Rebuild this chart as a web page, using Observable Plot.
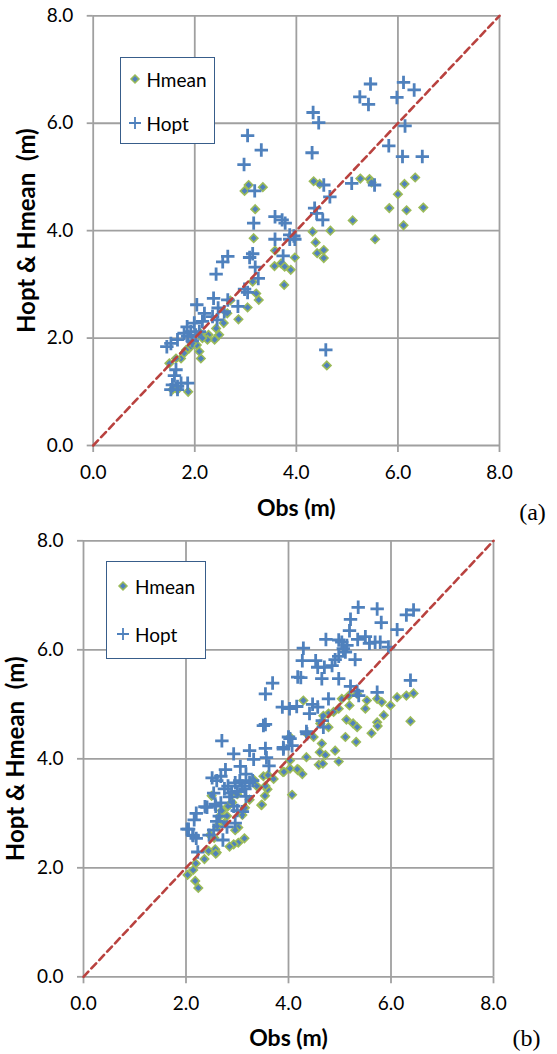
<!DOCTYPE html>
<html>
<head>
<meta charset="utf-8">
<script src="https://cdn.jsdelivr.net/npm/d3@7"></script>
<script src="https://cdn.jsdelivr.net/npm/@observablehq/plot@0.6"></script>
<style>
  html, body { margin: 0; padding: 0; background: #fff; }
  .panel { position: relative; width: 557px; height: 527px; overflow: visible; }
  .panel svg { overflow: visible; }
  .legend { position: absolute; box-sizing: border-box; border: 1.5px solid #385d8a; background: #fff; }
  .lg-item { position: absolute; font-family: Lato, "Open Sans", sans-serif; font-size: 19px; color: #000; line-height: 1; transform: translateY(-50%); white-space: nowrap; }
  .lg-sym { position: absolute; overflow: visible; }
</style>
</head>
<body>
<div class="panel" id="pa"></div>
<div class="panel" id="pb"></div>
<script>
// ---------- data ----------
const axisTicks = [0, 2, 4, 6, 8];
const oneToOne = [0, 8];
const seriesNames = ["Hmean", "Hopt"];
const xTitle = "Obs (m)";
const yTitle = "Hopt & Hmean\u00a0\u00a0(m)";
const panelLabels = ["(a)", "(b)"];

// panel (a): [Obs, Hmean]
const aHmean = [
  [4.34,4.92],[4.46,4.87],[5.26,4.97],[5.44,4.96],[5.48,4.90],[6.34,4.99],[6.13,4.87],[6.00,4.68],
  [5.83,4.42],[6.17,4.38],[6.50,4.43],[6.11,4.10],[5.11,4.19],[4.67,4.00],[4.32,3.98],[4.38,3.78],
  [5.55,3.84],[4.41,3.58],[4.54,3.64],[4.54,3.49],[4.60,1.49],[2.98,4.74],[3.06,4.85],[3.34,4.81],
  [3.19,4.40],[3.16,3.86],[3.58,3.63],[3.57,3.34],[3.70,3.39],[3.77,3.33],[3.89,3.27],[3.76,2.99],
  [3.97,3.50],[3.14,3.05],[3.21,2.83],[3.26,2.71],[3.04,2.57],[2.86,2.35],[2.64,2.46],[2.57,2.28],
  [2.48,2.06],[2.39,1.97],[2.27,2.06],[2.42,2.18],[2.11,2.09],[2.12,1.62],[2.09,1.75],[2.04,1.87],
  [1.89,1.81],[1.83,1.78],[1.73,1.62],[1.63,1.62],[1.50,1.53],[1.87,1.00],[1.66,1.04],[1.56,1.04],
  [1.79,1.72],[2.25,1.97],[2.70,2.70],[1.95,1.90],[2.15,2.00]
];
// panel (a): [Obs, Hopt]
const aHopt = [
  [5.46,6.73],[6.11,6.76],[6.32,6.62],[5.25,6.49],[5.98,6.48],[5.42,6.35],[4.33,6.20],[4.44,6.01],
  [6.14,5.95],[5.82,5.58],[4.31,5.45],[6.09,5.38],[6.48,5.38],[5.09,4.88],[5.54,4.85],[4.54,4.85],
  [4.66,4.63],[4.36,4.42],[4.40,4.32],[4.52,4.20],[4.58,1.78],[3.04,5.77],[3.31,5.50],[2.97,5.23],
  [3.18,4.74],[3.58,4.26],[3.72,4.20],[3.78,4.14],[3.16,4.14],[3.58,3.84],[3.87,3.92],[3.87,3.84],
  [3.97,3.84],[3.74,3.53],[3.14,3.57],[3.08,3.50],[2.65,3.52],[2.55,3.42],[2.42,3.19],[3.19,3.32],
  [3.25,3.11],[2.98,2.91],[3.04,2.85],[2.37,2.74],[2.65,2.71],[2.85,2.59],[2.46,2.56],[2.04,2.62],
  [2.19,2.46],[2.35,2.40],[2.58,2.49],[2.44,2.34],[2.15,2.31],[1.99,2.28],[1.85,2.21],[1.92,2.12],
  [1.79,2.09],[2.09,2.12],[2.02,2.06],[1.66,1.97],[1.53,1.90],[1.45,1.84],[1.86,2.03],[1.63,1.41],
  [1.56,1.13],[1.66,1.10],[1.73,1.16],[1.86,1.16],[1.53,1.04],[1.66,1.04],[1.60,1.30],[3.95,3.90],
  [1.95,1.95]
];
// panel (b): [Obs, Hmean]
const bHmean = [
  [4.29,5.07],[5.04,5.10],[5.18,5.16],[5.34,5.19],[5.53,5.07],[5.73,5.10],[5.82,5.04],[6.12,5.13],
  [6.30,5.16],[6.44,5.20],[5.99,4.98],[6.38,4.69],[5.86,4.80],[5.73,4.67],[5.74,4.60],[5.62,4.47],
  [5.50,4.92],[5.19,4.98],[4.98,4.92],[4.88,4.86],[4.78,4.83],[4.68,4.79],[5.13,4.72],[5.26,4.65],
  [5.34,4.58],[5.11,4.40],[5.32,4.31],[4.62,4.65],[4.78,4.58],[4.03,4.40],[4.36,4.46],[4.49,4.40],
  [4.65,4.28],[4.61,4.12],[4.91,4.15],[4.98,3.95],[4.72,4.07],[4.35,4.03],[4.59,3.89],[4.67,3.91],
  [4.20,3.80],[4.03,3.97],[3.89,3.76],[4.03,3.82],[4.18,3.79],[3.71,3.63],
  [4.07,3.34],[3.47,3.15],[3.54,3.32],[3.59,3.44],[3.14,2.54],[3.02,2.46],[2.93,2.43],[2.85,2.39],
  [2.60,2.28],[2.57,2.34],[2.44,2.31],[2.36,2.16],[2.19,2.08],[2.14,1.96],[2.03,1.87],[2.18,1.76],
  [2.24,1.63],[2.50,3.32],[3.02,2.74],[3.51,3.68],[3.48,3.16],[3.32,3.62],[3.24,3.25],[2.65,2.94],
  [2.61,2.76],[2.75,2.82],[2.96,2.69],[2.58,2.26],[2.47,2.60],[3.38,3.50],[2.82,3.13],[3.10,2.97],
  [3.91,3.76],[4.17,3.81],[4.27,3.72],[2.70,3.05],[2.90,3.20],[3.00,3.35],[3.15,3.10],[2.55,2.55],
  [2.80,2.95],[3.55,3.50],[3.60,3.70]
];
// panel (b): [Obs, Hopt]
const bHopt = [
  [5.36,6.78],[5.73,6.75],[5.21,6.56],[5.81,6.50],[6.44,6.73],[6.30,6.64],[6.12,6.37],[5.19,6.35],
  [4.73,6.19],[4.98,6.18],[5.04,6.14],[5.14,6.08],[5.35,6.19],[5.50,6.24],[5.58,6.12],[5.69,6.14],
  [5.79,6.14],[5.95,6.05],[5.07,6.02],[5.11,5.96],[4.29,6.03],[4.27,5.80],[4.53,5.80],[5.30,5.82],
  [4.91,5.82],[4.98,5.88],[4.57,5.68],[4.70,5.68],[4.85,5.71],[4.18,5.50],[4.24,5.49],[4.65,5.47],
  [4.98,5.47],[5.21,5.33],[5.34,5.24],[5.37,5.16],[5.73,5.22],[6.38,5.44],[4.78,5.10],[3.88,4.95],
  [4.02,4.92],[4.16,4.96],[4.47,5.00],[4.57,4.95],[4.41,4.83],[4.66,4.70],[3.69,5.39],[3.90,4.18],
  [4.03,4.37],[4.36,4.46],[4.68,4.58],
  [2.70,4.33],[2.93,4.09],[3.24,4.15],[3.32,3.99],[3.51,4.61],[3.55,4.63],[3.55,5.19],[2.51,3.65],
  [2.68,3.68],[2.77,3.80],[3.06,3.86],[3.17,3.72],[3.55,4.19],[3.57,4.02],[3.62,3.87],[2.54,3.37],
  [2.82,3.50],[2.96,3.56],[3.10,3.50],[3.24,3.56],[2.89,3.37],[3.17,3.31],[2.68,3.19],[2.58,3.13],
  [2.41,3.11],[2.93,3.13],[3.10,3.03],[2.20,3.00],[2.16,2.88],[2.02,2.71],[2.13,2.60],[2.20,2.54],
  [2.54,2.69],[2.72,2.51],[2.23,2.29],[2.96,2.82],[3.90,4.21],[4.00,4.40],[4.07,4.24],[4.35,4.50],
  [2.60,3.60],[2.75,3.45],[3.00,3.40],[3.05,3.60],[2.85,3.30],[3.15,3.45],[3.30,3.60],[2.65,2.95],
  [2.80,2.75],[2.45,2.60],[2.60,2.85],[3.00,3.05],[2.37,3.12],[2.57,3.17],[2.14,2.59],[2.05,2.71]
];

// ---------- styling ----------
const BLUE = "#4f81bd", GREEN = "#9bbb59", RED = "#b9423f", GRID = "#a0a0a0";
const FONT = "Lato, 'Open Sans', sans-serif";
const fmt = d3.format(".1f");

function panel(el, hmean, hopt, label, g) {
  const chart = Plot.plot({
    width: 557, height: 527,
    marginLeft: g.left, marginRight: 557 - g.right, marginTop: g.top, marginBottom: 527 - g.bottom,
    x: {domain: [0, 8]},
    y: {domain: [0, 8]},
    style: {fontFamily: FONT, fontSize: "19px", color: "#000", background: "transparent", overflow: "visible"},
    marks: [
      Plot.gridX(axisTicks, {stroke: GRID, strokeOpacity: 1, strokeWidth: 1.8}),
      Plot.gridY(axisTicks, {stroke: GRID, strokeOpacity: 1, strokeWidth: 1.8}),
      Plot.axisX(axisTicks, {tickFormat: fmt, tickSize: 7, tickPadding: 13, stroke: GRID, strokeWidth: 1.8, label: null, fontSize: 19}),
      Plot.axisY(axisTicks, {tickFormat: fmt, tickSize: 6, tickPadding: 14, stroke: GRID, strokeWidth: 1.8, label: null, fontSize: 19}),
      Plot.dot(hmean, {x: d => d[0], y: d => d[1], symbol: "diamond2", r: 3.8, fill: BLUE, stroke: GREEN, strokeWidth: 1.6}),
      Plot.dot(hopt, {x: d => d[0], y: d => d[1], symbol: "plus", r: 4.4, stroke: BLUE, strokeWidth: 2.8}),
      Plot.line(oneToOne, {x: d => d, y: d => d, stroke: RED, strokeWidth: 2.6, strokeDasharray: "7,4.5"}),
      Plot.text([xTitle], {text: d => d, frameAnchor: "bottom", dy: g.xTitleDy, textAnchor: "middle", lineAnchor: "middle", fontWeight: "bold", fontSize: 23, fill: "#000"}),
      Plot.text([yTitle], {text: d => d, frameAnchor: "left", dx: g.yTitleDx, rotate: -90, textAnchor: "middle", lineAnchor: "middle", fontWeight: "bold", fontSize: 24, fill: "#000"}),
      Plot.text([label], {text: d => d, frameAnchor: "bottom-right", dx: g.labDx, dy: g.labDy, textAnchor: "middle", lineAnchor: "middle", fontFamily: "'Liberation Serif', 'DejaVu Serif', serif", fontSize: 24, fill: "#000"})
    ]
  });
  el.appendChild(chart);

  // legend box
  const L = g.legend;
  const box = document.createElement("div");
  box.className = "legend";
  box.style.left = L.x0 + "px"; box.style.top = L.y0 + "px";
  box.style.width = (L.x1 - L.x0) + "px"; box.style.height = (L.y1 - L.y0) + "px";
  el.appendChild(box);
  const ns = "http://www.w3.org/2000/svg";
  seriesNames.forEach((name, i) => {
    const cy = L.rows[i];
    const s = document.createElementNS(ns, "svg");
    s.setAttribute("class", "lg-sym");
    s.setAttribute("width", 16); s.setAttribute("height", 16);
    s.style.left = (L.mx - 8) + "px"; s.style.top = (cy - 8) + "px";
    const p = document.createElementNS(ns, "path");
    if (name === "Hmean") {
      p.setAttribute("d", "M8,4L12,8L8,12L4,8Z");
      p.setAttribute("fill", BLUE); p.setAttribute("stroke", GREEN); p.setAttribute("stroke-width", 1.5);
    } else {
      p.setAttribute("d", "M2,8H14M8,2V14");
      p.setAttribute("fill", "none"); p.setAttribute("stroke", BLUE); p.setAttribute("stroke-width", 1.8);
    }
    s.appendChild(p);
    el.appendChild(s);
    const t = document.createElement("div");
    t.className = "lg-item";
    t.textContent = name;
    t.style.left = L.tx + "px"; t.style.top = cy + "px";
    el.appendChild(t);
  });
}

panel(document.getElementById("pa"), aHmean, aHopt, panelLabels[0], {
  left: 92.7, right: 499, top: 15.3, bottom: 445,
  xTitleDy: 63.5, yTitleDx: -66, labDx: 33, labDy: 67,
  legend: {x0: 120, y0: 56.5, x1: 215, y1: 144, mx: 134.5, tx: 146.5, rows: [79, 123]}
});
panel(document.getElementById("pb"), bHmean, bHopt, panelLabels[1], {
  left: 83, right: 493, top: 13.3, bottom: 449.3,
  xTitleDy: 62, yTitleDx: -67, labDx: 33, labDy: 62,
  legend: {x0: 106, y0: 34, x1: 206, y1: 132, mx: 123, tx: 135, rows: [58.7, 107.4]}
});
</script>
</body>
</html>
